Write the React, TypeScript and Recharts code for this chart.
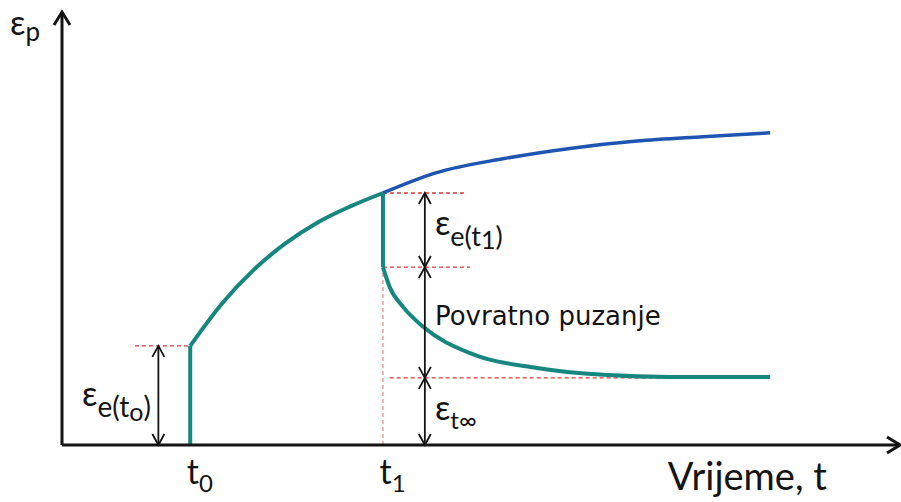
import React from "react";
import { LineChart, Line, XAxis, YAxis, ReferenceLine, ReferenceDot } from "recharts";

// time / strain levels (arbitrary units, 0..100)
const T0 = 15.3;
const T1 = 38.3;
const T_END = 84.5;
const X_MAX = 100;
const Y_MAX = 100;

const EPS_T0 = 22.9;
const EPS_T1 = 58.2;
const EPS_REC = 41.1;
const EPS_INF = 15.5;

const loadTime = [T0, 19.1, 22.9, 26.7, 30.5, 34.4, T1];
const loadStrain = [EPS_T0, 32.7, 40.5, 46.6, 51.4, 55.1, EPS_T1];
const contTime = [T1, 44.7, 52.6, 60.6, 68.6, 76.5, T_END];
const contStrain = [EPS_T1, 62.9, 66.1, 68.5, 70.2, 71.2, 72.1];
const recTime = [T1, 39.1, 40.7, 43.1, 48.7, 56.7, 64.6, 72.6, T_END];
const recStrain = [EPS_REC, 36.5, 31.9, 27.3, 21.2, 17.8, 16.2, 15.7, 15.7];

const axisTitles = ["Vrijeme, t", "Povratno puzanje"];
const tickLabels = ["t", "t"];
const tickSubs = ["0", "1"];

const zip = (xs: number[], ys: number[]) => xs.map((t, i) => ({ t, e: ys[i] }));

const TEAL = "#15877e";
const BLUE = "#1e55b0";
const RED = "#d8383a";
const PINK = "#e79292";
const INK = "#141414";
const FONT = "Lato, 'Open Sans', sans-serif";

function arrowShape(both: boolean, head: number, half: number) {
  return (p: any) => {
    const { x1, y1, x2, y2, stroke, strokeWidth } = p;
    const a = Math.atan2(y2 - y1, x2 - x1);
    const tip = (x: number, y: number, ang: number) => {
      const bx = x - head * Math.cos(ang);
      const by = y - head * Math.sin(ang);
      const ox = half * Math.sin(ang);
      const oy = half * Math.cos(ang);
      return `${bx + ox},${by - oy} ${x},${y} ${bx - ox},${by + oy}`;
    };
    return (
      <g>
        <line x1={x1} y1={y1} x2={x2} y2={y2} stroke={stroke} strokeWidth={strokeWidth} />
        <polyline points={tip(x2, y2, a)} fill="none" stroke={stroke} strokeWidth={strokeWidth} />
        {both && (
          <polyline points={tip(x1, y1, a + Math.PI)} fill="none" stroke={stroke} strokeWidth={strokeWidth} />
        )}
      </g>
    );
  };
}

type Part = { s: string; size: number; dy?: number };

function textShape(parts: Part[], family = FONT) {
  return (p: any) => (
    <text x={p.cx} y={p.cy} fontFamily={family} fill={INK}>
      {parts.map((pt, i) => (
        <tspan key={i} fontSize={pt.size} dy={pt.dy ?? 0}>
          {pt.s}
        </tspan>
      ))}
    </text>
  );
}

export default function App() {
  const dashed = (x1: number, y1: number, x2: number, y2: number, color = RED) => (
    <ReferenceLine
      key={`${x1}-${y1}-${x2}-${y2}`}
      segment={[{ x: x1, y: y1 }, { x: x2, y: y2 }]}
      stroke={color}
      strokeWidth={1.3}
      strokeDasharray="4 3"
      ifOverflow="visible"
    />
  );
  const dbl = (x: number, y1: number, y2: number) => (
    <ReferenceLine
      key={`a-${x}-${y1}`}
      segment={[{ x, y: y1 }, { x, y: y2 }]}
      stroke={INK}
      strokeWidth={1.8}
      ifOverflow="visible"
      shape={arrowShape(true, 11, 6)}
    />
  );
  const label = (x: number, y: number, parts: Part[], family?: string) => (
    <ReferenceDot
      key={`l-${x}-${y}`}
      x={x}
      y={y}
      r={0}
      ifOverflow="visible"
      shape={textShape(parts, family)}
    />
  );

  return (
    <div style={{ position: "absolute", left: 0, top: 0, background: "#fff" }}>
      <LineChart width={901} height={502} margin={{ top: 12, right: 1, bottom: 57, left: 62 }}>
        <XAxis type="number" dataKey="t" domain={[0, X_MAX]} hide allowDataOverflow />
        <YAxis type="number" dataKey="e" domain={[0, Y_MAX]} hide allowDataOverflow />

        {dashed(8.7, EPS_T0, T0, EPS_T0)}
        {dashed(T1, EPS_T1, 48.3, EPS_T1)}
        {dashed(T1, EPS_REC, 48.7, EPS_REC)}
        {dashed(39.1, EPS_INF, T_END, EPS_INF)}
        {dashed(T1, 0, T1, EPS_REC, PINK)}

        <Line data={[{ t: T0, e: 0 }, { t: T0, e: EPS_T0 }]} dataKey="e" type="linear" stroke={TEAL} strokeWidth={4} dot={false} activeDot={false} isAnimationActive={false} />
        <Line data={zip(loadTime, loadStrain)} dataKey="e" type="monotone" stroke={TEAL} strokeWidth={4} dot={false} activeDot={false} isAnimationActive={false} />
        <Line data={zip(contTime, contStrain)} dataKey="e" type="monotone" stroke={BLUE} strokeWidth={3.5} dot={false} activeDot={false} isAnimationActive={false} />
        <Line data={[{ t: T1, e: EPS_T1 }, { t: T1, e: EPS_REC }]} dataKey="e" type="linear" stroke={TEAL} strokeWidth={4} dot={false} activeDot={false} isAnimationActive={false} />
        <Line data={zip(recTime, recStrain)} dataKey="e" type="monotone" stroke={TEAL} strokeWidth={4} dot={false} activeDot={false} isAnimationActive={false} />

        {dbl(11.5, 0, EPS_T0)}
        {dbl(43.3, EPS_REC, EPS_T1)}
        {dbl(43.3, EPS_INF, EPS_REC)}
        {dbl(43.3, 0, EPS_INF)}

        <ReferenceLine segment={[{ x: 0, y: 0 }, { x: X_MAX, y: 0 }]} stroke={INK} strokeWidth={3} ifOverflow="visible" shape={arrowShape(false, 13, 8)} />
        <ReferenceLine segment={[{ x: 0, y: 0 }, { x: 0, y: Y_MAX }]} stroke={INK} strokeWidth={3} ifOverflow="visible" shape={arrowShape(false, 13, 8)} />

        {label(-6.2, 94.7, [{ s: "ε", size: 34 }, { s: "p", size: 26, dy: 6 }])}
        {label(2.4, 9.0, [{ s: "ε", size: 34 }, { s: "e(t", size: 28, dy: 11 }, { s: "o", size: 25, dy: 4 }, { s: ")", size: 28, dy: -4 }])}
        {label(44.5, 48.5, [{ s: "ε", size: 34 }, { s: "e(t", size: 27, dy: 11 }, { s: "1", size: 25, dy: 3 }, { s: ")", size: 27, dy: -3 }])}
        {label(44.5, 5.8, [{ s: "ε", size: 34 }, { s: "t∞", size: 24, dy: 9 }])}
        {label(44.5, 27.7, [{ s: axisTitles[1], size: 26 }], "'DejaVu Sans', sans-serif")}
        {label(72.3, -10.4, [{ s: axisTitles[0], size: 38 }])}
        {label(14.9, -9.0, [{ s: tickLabels[0], size: 34 }, { s: tickSubs[0], size: 24, dy: 8 }])}
        {label(37.9, -9.0, [{ s: tickLabels[1], size: 34 }, { s: tickSubs[1], size: 24, dy: 8 }])}
      </LineChart>
    </div>
  );
}
